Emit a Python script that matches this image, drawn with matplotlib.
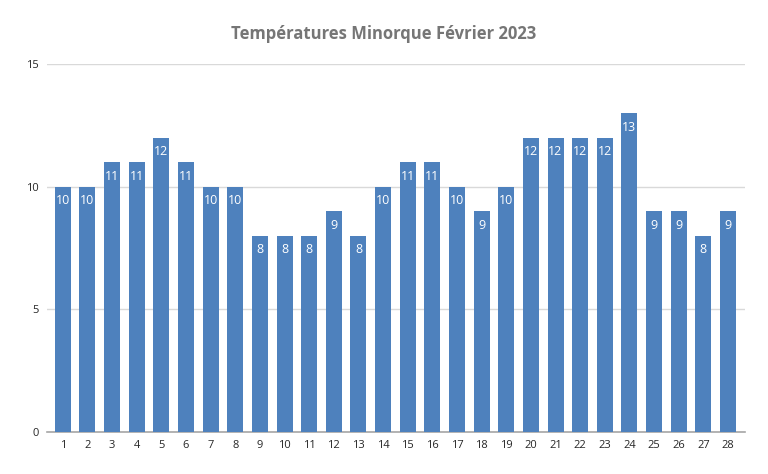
import matplotlib.pyplot as plt
import numpy as np

plt.rcParams['font.family'] = ['Open Sans', 'DejaVu Sans']

jours = list(range(1, 29))
temperatures = [10, 10, 11, 11, 12, 11, 10, 10, 8, 8, 8, 9, 8, 10,
                11, 11, 10, 9, 10, 12, 12, 12, 12, 13, 9, 9, 8, 9]

fig = plt.figure(figsize=(7.68, 4.74), dpi=100)
ax = fig.add_axes([0.061, 0.0886, 0.909, 0.776])

barres = ax.bar(jours, temperatures, width=0.65, color='#4e81bd', zorder=3)
for b, v in zip(barres, temperatures):
    ax.text(b.get_x() + b.get_width() / 2, v - 0.3, str(v), ha='center', va='top',
            color='white', fontsize=9, zorder=4)

ax.set_xlim(0.35, 28.69)
ax.set_ylim(0, 15)
ax.set_yticks([0, 5, 10, 15])
ax.set_xticks(jours)
ax.grid(axis='y', color='#d9d9d9', linewidth=1, zorder=0)
for s in ['top', 'right', 'left']:
    ax.spines[s].set_visible(False)
ax.spines['bottom'].set_color('#a6a6a6')
ax.spines['bottom'].set_linewidth(1.2)
ax.tick_params(axis='both', length=0, labelsize=8, colors='#262626')
ax.tick_params(axis='x', pad=6)
ax.tick_params(axis='y', pad=6)

fig.text(0.5, 0.928, 'Températures Minorque Février 2023', ha='center', va='center',
         fontsize=12, fontweight='bold', color='#767676')

fig.savefig('out.png', dpi=100)
